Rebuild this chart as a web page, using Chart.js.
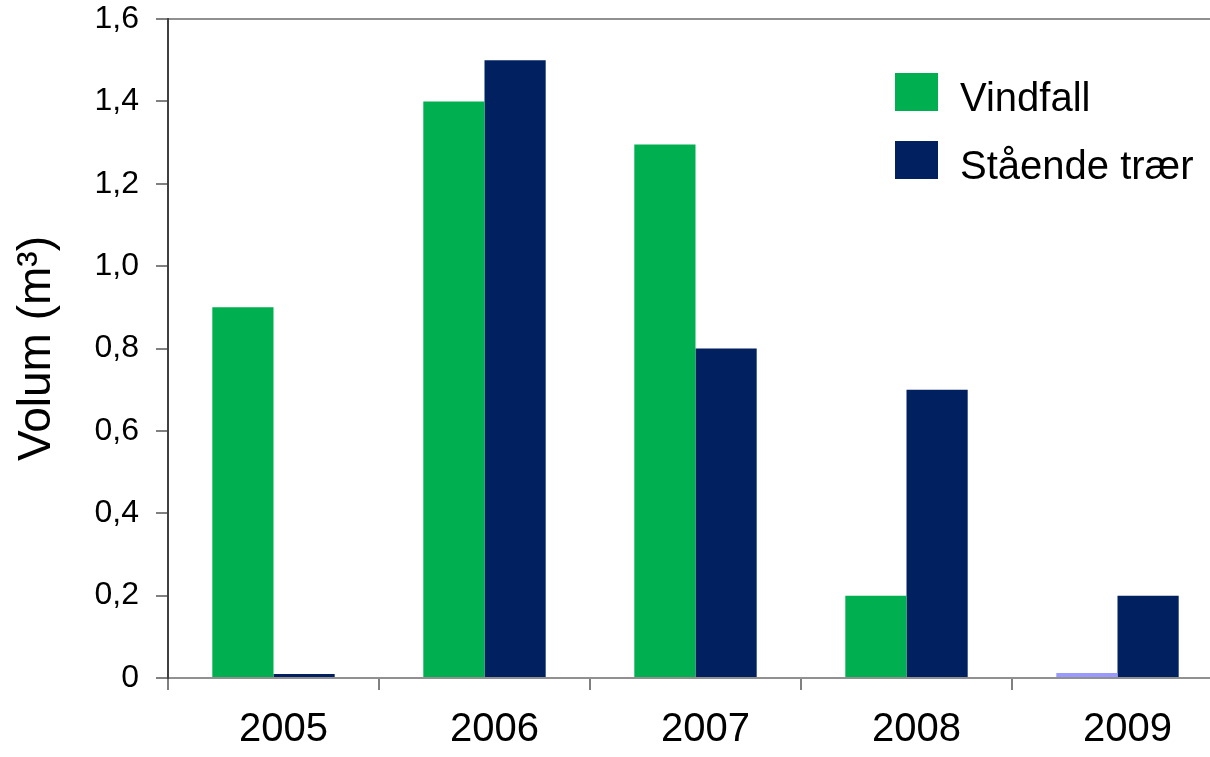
<!DOCTYPE html>
<html><head><meta charset="utf-8">
<script src="https://cdn.jsdelivr.net/npm/chart.js@4"></script>
<style>
html,body{margin:0;padding:0;overflow:hidden;background:#fff;width:1210px;height:757px}
#c{display:block}
</style></head>
<body>
<canvas id="c" width="1240" height="757" style="width:1240px;height:757px"></canvas>
<script>
const years = ['2005', '2006', '2007', '2008', '2009'];
const vindfall = [0.90, 1.40, 1.295, 0.20, 0.012];
const staendeTraer = [0.01, 1.50, 0.80, 0.70, 0.20];
const seriesNames = ['Vindfall', 'Stående trær'];
const yAxisTitle = 'Volum (m³)';
const yMin = 0, yMax = 1.6, yStep = 0.2;

const FONT = "'Liberation Sans', Arial, sans-serif";
const GREEN = '#00B050', NAVY = '#002060', LIGHT = '#9999FF';

const legendPlugin = {
  id: 'insideLegend',
  afterDraw(chart) {
    const ctx = chart.ctx;
    const a = chart.chartArea;
    const bx = a.left + 727, by0 = a.top + 54;
    const rowGap = 68;
    chart.data.datasets.forEach((ds, i) => {
      const y = by0 + i * rowGap;
      ctx.save();
      ctx.fillStyle = ds.legendColor;
      ctx.fillRect(bx, y, 43, 38);
      ctx.fillStyle = '#000';
      ctx.font = '40px ' + FONT;
      ctx.textBaseline = 'alphabetic';
      ctx.textAlign = 'left';
      ctx.fillText(ds.label, bx + 65, y + 38);
      ctx.restore();
    });
  }
};

const chart = new Chart(document.getElementById('c'), {
  type: 'bar',
  data: {
    labels: years,
    datasets: [
      {
        label: seriesNames[0],
        data: vindfall,
        backgroundColor: vindfall.map((v, i) => i === years.length - 1 ? LIGHT : GREEN),
        legendColor: GREEN,
        borderWidth: 0
      },
      {
        label: seriesNames[1],
        data: staendeTraer,
        backgroundColor: NAVY,
        legendColor: NAVY,
        borderWidth: 0
      }
    ]
  },
  options: {
    responsive: false,
    animation: false,
    devicePixelRatio: 1,
    layout: { padding: { top: 19, right: 17, bottom: 0, left: 0 } },
    datasets: { bar: { categoryPercentage: 0.58, barPercentage: 1.0 } },
    plugins: { legend: { display: false }, tooltip: { enabled: false } },
    scales: {
      x: {
        grid: {
          offset: true,
          drawOnChartArea: false,
          color: '#808080',
          tickColor: '#808080',
          tickLength: 12,
          lineWidth: 2
        },
        border: { color: '#909090', width: 2 },
        ticks: {
          color: '#000',
          font: { family: FONT, size: 40 },
          padding: 16,
          labelOffset: 10,
          maxRotation: 0,
          autoSkip: false
        },
        afterFit(scale) {
          scale.height = 79;
          scale.paddingLeft = 0; scale.paddingRight = 0;
        }
      },
      y: {
        min: yMin,
        max: yMax,
        grid: {
          color: (c) => (c.tick && c.tick.value >= yMax - 1e-6) ? '#909090' : 'rgba(0,0,0,0)',
          tickColor: '#808080',
          tickLength: 12,
          lineWidth: 2
        },
        border: { color: '#404040', width: 2 },
        ticks: {
          stepSize: yStep,
          color: '#000',
          font: { family: FONT, size: 32 },
          padding: 17,
          callback: (v) => Math.abs(v) < 1e-9 ? '0' : Number(v).toFixed(1).replace('.', ',')
        },
        title: {
          display: true,
          text: yAxisTitle,
          color: '#000',
          font: { family: FONT, size: 46 },
          padding: { top: 10, bottom: 0 }
        },
        afterFit(scale) {
          scale.width = 168;
          scale.paddingTop = 0; scale.paddingBottom = 0;
        }
      }
    }
  },
  plugins: [legendPlugin]
});
</script>
</body></html>
